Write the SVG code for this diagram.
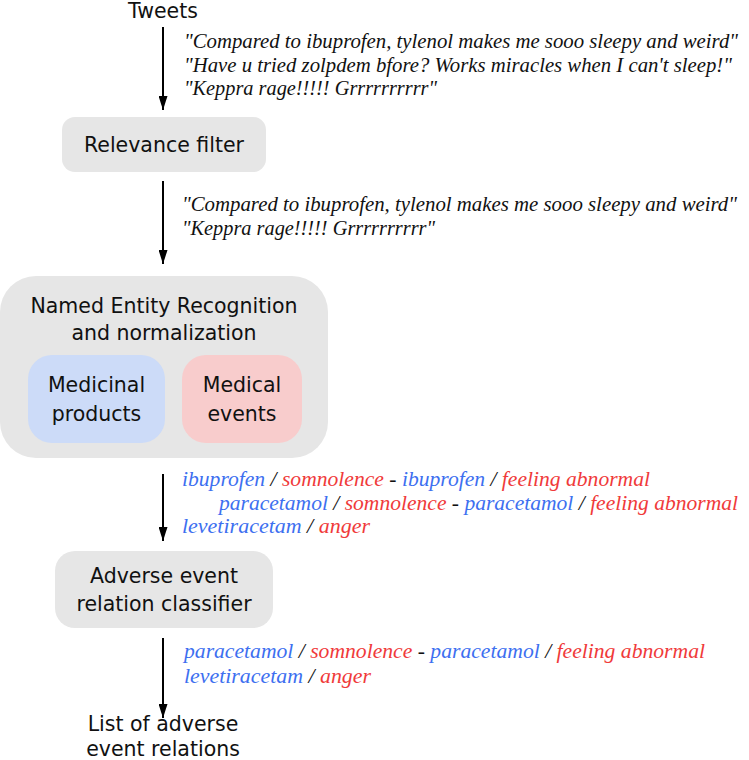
<svg xmlns="http://www.w3.org/2000/svg" width="749" height="760" viewBox="0 0 749 760">
<defs>
<style>
.sans{font-family:"DejaVu Sans","Verdana",sans-serif;font-size:20.5px;fill:#111;text-anchor:middle}
.it{font-family:"Liberation Serif","Times New Roman",serif;font-style:italic;font-size:22px;fill:#111}
.q{font-size:20.5px}
.b{fill:#3d6ff0}
.r{fill:#f03a3a}
.k{fill:#111}
.box{fill:#e6e6e6}
.conn{stroke:#000;stroke-width:2;fill:none}
</style>
<marker id="arr" viewBox="0 0 14 9" refX="14" refY="4.5" markerWidth="14" markerHeight="9" markerUnits="userSpaceOnUse" orient="auto">
<path d="M0,0 L14,4.5 L0,9 z" fill="#000"/>
</marker>
</defs>

<g id="connectors">
<line class="conn" x1="163" y1="27" x2="163" y2="110" marker-end="url(#arr)"/>
<line class="conn" x1="163" y1="181" x2="163" y2="264" marker-end="url(#arr)"/>
<line class="conn" x1="163" y1="474" x2="163" y2="541" marker-end="url(#arr)"/>
<line class="conn" x1="163" y1="638" x2="163" y2="718" marker-end="url(#arr)"/>
</g>

<g id="tweets">
<text class="sans" x="163" y="18">Tweets</text>
</g>

<g id="tweet-texts">
<text class="it q" x="184" y="48" textLength="554" lengthAdjust="spacingAndGlyphs">"Compared to ibuprofen, tylenol makes me sooo sleepy and weird"</text>
<text class="it q" x="184" y="72" textLength="548" lengthAdjust="spacingAndGlyphs">"Have u tried zolpdem bfore? Works miracles when I can't sleep!"</text>
<text class="it q" x="184" y="95" textLength="253" lengthAdjust="spacingAndGlyphs">"Keppra rage!!!!! Grrrrrrrrrr"</text>
</g>

<g id="relevance-filter">
<rect class="box" x="62" y="117" width="204" height="55" rx="13"/>
<text class="sans" x="164" y="152">Relevance filter</text>
</g>

<g id="filtered-texts">
<text class="it q" x="182" y="211" textLength="555" lengthAdjust="spacingAndGlyphs">"Compared to ibuprofen, tylenol makes me sooo sleepy and weird"</text>
<text class="it q" x="182" y="235" textLength="253" lengthAdjust="spacingAndGlyphs">"Keppra rage!!!!! Grrrrrrrrrr"</text>
</g>

<g id="ner">
<rect class="box" x="0" y="276" width="328" height="182" rx="36"/>
<text class="sans" x="164" y="313">Named Entity Recognition</text>
<text class="sans" x="164" y="340">and normalization</text>
</g>

<g id="medicinal-products">
<rect x="28" y="355" width="137" height="88" rx="24" fill="#ccdbf8"/>
<text class="sans" x="96.5" y="392">Medicinal</text>
<text class="sans" x="96.5" y="421">products</text>
</g>

<g id="medical-events">
<rect x="182" y="355" width="120" height="88" rx="24" fill="#f8cccc"/>
<text class="sans" x="242" y="392">Medical</text>
<text class="sans" x="242" y="421">events</text>
</g>

<g id="candidate-pairs">
<text class="it" x="182" y="486" textLength="468" lengthAdjust="spacingAndGlyphs"><tspan class="b">ibuprofen</tspan> <tspan class="k">/</tspan> <tspan class="r">somnolence</tspan> <tspan class="k">-</tspan> <tspan class="b">ibuprofen</tspan> <tspan class="k">/</tspan> <tspan class="r">feeling abnormal</tspan></text>
<text class="it" x="219" y="510" textLength="519" lengthAdjust="spacingAndGlyphs"><tspan class="b">paracetamol</tspan> <tspan class="k">/</tspan> <tspan class="r">somnolence</tspan> <tspan class="k">-</tspan> <tspan class="b">paracetamol</tspan> <tspan class="k">/</tspan> <tspan class="r">feeling abnormal</tspan></text>
<text class="it" x="182" y="533" textLength="188" lengthAdjust="spacingAndGlyphs"><tspan class="b">levetiracetam</tspan> <tspan class="k">/</tspan> <tspan class="r">anger</tspan></text>
</g>

<g id="relation-classifier">
<rect class="box" x="55" y="551" width="218" height="77" rx="20"/>
<text class="sans" x="164" y="583">Adverse event</text>
<text class="sans" x="164" y="611">relation classifier</text>
</g>

<g id="adverse-pairs">
<text class="it" x="184" y="658" textLength="521" lengthAdjust="spacingAndGlyphs"><tspan class="b">paracetamol</tspan> <tspan class="k">/</tspan> <tspan class="r">somnolence</tspan> <tspan class="k">-</tspan> <tspan class="b">paracetamol</tspan> <tspan class="k">/</tspan> <tspan class="r">feeling abnormal</tspan></text>
<text class="it" x="184" y="683" textLength="187" lengthAdjust="spacingAndGlyphs"><tspan class="b">levetiracetam</tspan> <tspan class="k">/</tspan> <tspan class="r">anger</tspan></text>
</g>

<g id="output">
<text class="sans" x="163" y="731">List of adverse</text>
<text class="sans" x="163" y="756">event relations</text>
</g>
</svg>
